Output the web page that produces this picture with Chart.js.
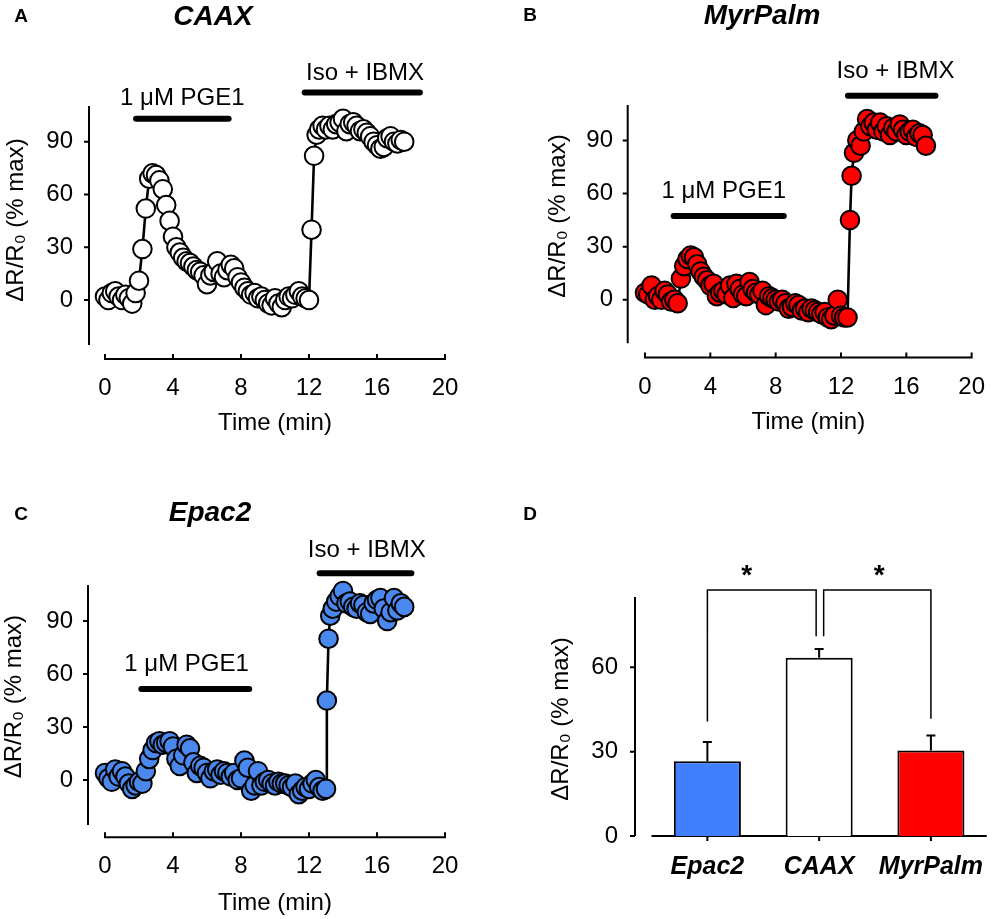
<!DOCTYPE html>
<html>
<head>
<meta charset="utf-8">
<script src="https://cdn.jsdelivr.net/npm/chart.js@4.4.1/dist/chart.umd.min.js"></script>
<style>
  html, body { margin: 0; padding: 0; background: #fff; }
  body { width: 1000px; height: 919px; position: relative; overflow: hidden;
         font-family: 'Liberation Sans', Arial, sans-serif; color: #000; }
  .panel { position: absolute; }
  .lbl { position: absolute; transform: translate(-50%, -50%); line-height: 1; white-space: nowrap; }
  .letter { font-weight: bold; font-size: 19px; }
  .title { font-weight: bold; font-style: italic; font-size: 28px; }
</style>
</head>
<body>
<div class="panel" style="left:0;top:0;width:500px;height:459px"><canvas id="panelA"></canvas></div>
<div class="panel" style="left:500px;top:0;width:500px;height:459px"><canvas id="panelB"></canvas></div>
<div class="panel" style="left:0;top:459px;width:500px;height:460px"><canvas id="panelC"></canvas></div>
<div class="panel" style="left:500px;top:459px;width:500px;height:460px"><canvas id="panelD"></canvas></div>

<div class="lbl letter" style="left:21px;top:15px">A</div>
<div class="lbl title" style="left:213px;top:16px">CAAX</div>
<div class="lbl letter" style="left:530px;top:14px">B</div>
<div class="lbl title" style="left:762px;top:15px">MyrPalm</div>
<div class="lbl letter" style="left:21px;top:513px">C</div>
<div class="lbl title" style="left:210px;top:512px">Epac2</div>
<div class="lbl letter" style="left:530px;top:513px">D</div>

<script>
const FONT = "'Liberation Sans', Arial, sans-serif";
const Y_TITLE = 'ΔR/R₀ (% max)';

// tick labels
const timeTicks = [0, 4, 8, 12, 16, 20];
const responseTicks = [0, 30, 60, 90];
const barTicks = [0, 30, 60];

// A: CAAX trace (time in min, response in % max)
const timeA = [0, 0.2, 0.4, 0.6, 0.8, 1, 1.2, 1.4, 1.6, 1.8, 2, 2.2, 2.4, 2.6, 2.8, 3, 3.2, 3.4, 3.6, 3.8,
  4, 4.2, 4.4, 4.6, 4.8, 5, 5.2, 5.4, 5.6, 5.8, 6, 6.2, 6.4, 6.6, 6.8, 7, 7.2, 7.4, 7.6, 7.8,
  8, 8.2, 8.4, 8.6, 8.8, 9, 9.2, 9.4, 9.6, 9.8, 10, 10.2, 10.4, 10.6, 10.8, 11, 11.2, 11.4, 11.6, 11.8,
  12, 12.15, 12.3, 12.45, 12.6, 12.8, 13, 13.2, 13.4, 13.6, 13.8, 14, 14.2, 14.4, 14.6, 14.8,
  15, 15.2, 15.4, 15.6, 15.8, 16, 16.2, 16.4, 16.6, 16.8, 17, 17.2, 17.4, 17.6];
const caax = [2, 0, 4, 5, 2, 0, 3, 1, -2, 4, 11, 29, 52, 69, 72, 71, 68, 63, 54, 45,
  36, 30, 27, 24, 22, 21, 19, 17, 16, 14, 9, 14, 16, 22, 15, 13, 17, 20, 18, 13,
  10, 7, 5, 3, 4, 1, 2, 0, -2, -3, 1, -2, -4, 0, 2, 1, 3, 5, 2, 1,
  0, 40, 82, 94, 97, 99, 97, 99, 97, 100, 101, 103, 96, 100, 101, 99,
  96, 97, 95, 93, 90, 88, 86, 87, 92, 93, 90, 89, 91, 90];

// B: MyrPalm trace
const timeB = [0, 0.2, 0.4, 0.6, 0.8, 1, 1.2, 1.4, 1.6, 1.8, 2, 2.2, 2.4, 2.6, 2.8, 3, 3.2, 3.4, 3.6, 3.8,
  4, 4.2, 4.4, 4.6, 4.8, 5, 5.2, 5.4, 5.6, 5.8, 6, 6.2, 6.4, 6.6, 6.8, 7, 7.2, 7.4, 7.6, 7.8,
  8, 8.2, 8.4, 8.6, 8.8, 9, 9.2, 9.4, 9.6, 9.8, 10, 10.2, 10.4, 10.6, 10.8, 11, 11.2, 11.4, 11.6, 11.8,
  12, 12.2, 12.4, 12.55, 12.65, 12.8, 13, 13.2, 13.4, 13.6, 13.8, 14, 14.2, 14.4, 14.6, 14.8,
  15, 15.2, 15.4, 15.6, 15.8, 16, 16.2, 16.4, 16.6, 16.8, 17, 17.2];
const myrPalm = [4, 3, 8, 0, 2, 0, 5, 3, -1, 0, -2, 12, 19, 23, 25, 24, 20, 16, 13, 11,
  8, 9, 2, 4, 5, 3, 8, 1, 9, 6, 3, 2, 10, 6, 4, 3, 5, -3, 2, 1,
  0, -1, 0, -2, -5, -4, -2, -3, -6, -5, -7, -5, -6, -7, -8, -7, -10, -11, -9, 0,
  -9, -10, -10, 45, 70, 83, 90, 87, 95, 102, 98, 100, 96, 100, 95, 98,
  93, 97, 95, 99, 96, 93, 95, 96, 92, 94, 93, 87];

// C: Epac2 trace
const timeC = [0, 0.2, 0.4, 0.6, 0.8, 1, 1.2, 1.4, 1.6, 1.8, 2, 2.2, 2.4, 2.6, 2.8, 3, 3.2, 3.4, 3.6, 3.8,
  4, 4.2, 4.4, 4.6, 4.8, 5, 5.2, 5.4, 5.6, 5.8, 6, 6.2, 6.4, 6.6, 6.8, 7, 7.2, 7.4, 7.6, 7.8,
  8, 8.2, 8.4, 8.6, 8.8, 9, 9.2, 9.4, 9.6, 9.8, 10, 10.2, 10.4, 10.6, 10.8, 11, 11.2, 11.4, 11.6, 11.8,
  12, 12.2, 12.4, 12.6, 12.8, 13, 13.05, 13.15, 13.25, 13.4, 13.6, 13.8, 14, 14.2, 14.4, 14.6, 14.8,
  15, 15.2, 15.4, 15.6, 15.8, 16, 16.2, 16.4, 16.6, 16.8, 17, 17.2, 17.4, 17.6];
const epac2 = [4, 1, -1, 6, 2, 5, 2, -2, -5, -3, -1, -2, 5, 12, 17, 21, 22, 20, 21, 22,
  19, 12, 8, 14, 20, 18, 10, 4, 8, 7, 4, 1, 5, 6, 3, 5, 4, 2, 4, 0,
  1, 11, 7, -6, -3, 5, -3, -1, 0, -2, -3, -1, -2, -2, -3, -4, -2, -8, -6, -4,
  -5, -2, 0, -4, -6, -5, 45, 80, 93, 97, 101, 104, 107, 100, 101, 98, 97,
  100, 99, 95, 94, 100, 102, 103, 97, 90, 95, 103, 96, 100, 98];

// drug application periods (min)
const pgeA = [1.65, 7.45], isoA = [11.57, 18.7];
const pgeB = [1.57, 8.68], isoB = [12.24, 17.97];
const pgeC = [1.96, 8.66], isoC = [12.45, 18.2];

// D: summary bars
const groups = ['Epac2', 'CAAX', 'MyrPalm'];
const meanD = [26.6, 63.4, 30.4];
const semD = [6.8, 3.1, 5.3];
const sigPairs = [[0, 1], [1, 2]];
const sigLegs = [[40.7, 71], [71, 41.7]];

const traceDecor = {
  id: 'traceDecor',
  beforeDatasetsDraw(chart, args, o) {
    const {ctx, chartArea} = chart;
    const xs = chart.scales.x, ys = chart.scales.y;
    ctx.save();
    ctx.strokeStyle = '#000';
    ctx.lineWidth = 2;
    ctx.beginPath();
    const ax = chartArea.left - o.gap;
    ctx.moveTo(ax, ys.getPixelForValue(o.yLine[0]));
    ctx.lineTo(ax, ys.getPixelForValue(o.yLine[1]));
    ys.ticks.forEach(t => {
      const py = ys.getPixelForValue(t.value);
      ctx.moveTo(ax - 5, py);
      ctx.lineTo(ax, py);
    });
    const by = chartArea.bottom;
    ctx.moveTo(xs.getPixelForValue(xs.min) - 1, by);
    ctx.lineTo(xs.getPixelForValue(xs.max) + 1, by);
    xs.ticks.forEach(t => {
      const px = xs.getPixelForValue(t.value);
      ctx.moveTo(px, by);
      ctx.lineTo(px, by - 5);
    });
    ctx.stroke();
    ctx.restore();
  },
  afterDatasetsDraw(chart, args, o) {
    const {ctx} = chart;
    const xs = chart.scales.x, ys = chart.scales.y;
    ctx.save();
    ctx.strokeStyle = '#000';
    ctx.fillStyle = '#000';
    ctx.lineWidth = 6;
    ctx.lineCap = 'round';
    ctx.font = '24px ' + FONT;
    ctx.textAlign = 'center';
    ctx.textBaseline = 'middle';
    o.marks.forEach(m => {
      const x0 = xs.getPixelForValue(m.span[0]) + 3;
      const x1 = xs.getPixelForValue(m.span[1]) - 3;
      const y = ys.getPixelForValue(m.barY);
      ctx.beginPath();
      ctx.moveTo(x0, y);
      ctx.lineTo(x1, y);
      ctx.stroke();
      ctx.fillText(m.text, xs.getPixelForValue(m.textX), ys.getPixelForValue(m.textY));
    });
    ctx.restore();
  }
};

function tracePanel(id, times, values, fill, frame, marks) {
  const points = times.map((t, i) => ({x: t, y: values[i]}));
  return new Chart(document.getElementById(id), {
    type: 'scatter',
    data: {
      datasets: [{
        data: points,
        showLine: true,
        borderColor: '#000',
        borderWidth: 2.6,
        pointRadius: 9.3,
        pointHoverRadius: 9.3,
        pointBackgroundColor: fill,
        pointBorderColor: '#000',
        pointBorderWidth: 2,
        clip: false
      }]
    },
    options: {
      responsive: true,
      maintainAspectRatio: false,
      animation: false,
      events: [],
      layout: {padding: frame.padding},
      plugins: {
        legend: {display: false},
        tooltip: {enabled: false},
        traceDecor: {gap: frame.gap, yLine: frame.yLine, marks: marks}
      },
      scales: {
        x: {
          type: 'linear', min: 0, max: 20,
          grid: {display: false, drawTicks: false},
          border: {display: false},
          afterBuildTicks: s => { s.ticks = timeTicks.map(v => ({value: v})); },
          afterFit: s => { s.height = frame.xHeight; },
          ticks: {padding: 15, maxRotation: 0, color: '#000', font: {size: 24, family: FONT}},
          title: {display: true, text: 'Time (min)', color: '#000', font: {size: 24, family: FONT},
                  padding: {top: 0, bottom: frame.xTitlePad}}
        },
        y: {
          min: frame.yMin, max: frame.yMax,
          grid: {display: false, drawTicks: false},
          border: {display: false},
          afterBuildTicks: s => { s.ticks = responseTicks.map(v => ({value: v})); },
          afterFit: s => { s.width = frame.yWidth; },
          ticks: {padding: 32, color: '#000', font: {size: 24, family: FONT}},
          title: {display: true, text: Y_TITLE, color: '#000', font: {size: 24, family: FONT},
                  padding: {top: frame.yTitlePad, bottom: 0}}
        }
      }
    },
    plugins: [traceDecor]
  });
}

tracePanel('panelA', timeA, caax, '#ffffff',
  {padding: {left: 0, right: 55, top: 81, bottom: 5}, gap: 16, yWidth: 105, xHeight: 95,
   yMin: -33.5, yMax: 124.5, yLine: [-25.6, 110.3], xTitlePad: 16.6, yTitlePad: 1.6},
  [{span: pgeA, barY: 103, text: '1 μM PGE1', textX: 4.55, textY: 114.7},
   {span: isoA, barY: 117.9, text: 'Iso + IBMX', textX: 15.3, textY: 128.9}]);

tracePanel('panelB', timeB, myrPalm, '#ff0000',
  {padding: {left: 0, right: 16, top: 74.5, bottom: 6.5}, gap: 17.3, yWidth: 145, xHeight: 95,
   yMin: -32.6, yMax: 127.2, yLine: [-24.5, 110], xTitlePad: 16.1, yTitlePad: 43.6},
  [{span: pgeB, barY: 47.3, text: '1 μM PGE1', textX: 4.82, textY: 61},
   {span: isoB, barY: 115.2, text: 'Iso + IBMX', textX: 15.34, textY: 128.7}]);

tracePanel('panelC', timeC, epac2, '#4a88ee',
  {padding: {left: 0, right: 55, top: 97, bottom: 1.7}, gap: 17, yWidth: 105, xHeight: 80,
   yMin: -32.4, yMax: 126.8, yLine: [-25.5, 110.4], xTitlePad: 0, yTitlePad: 0},
  [{span: pgeC, barY: 51.6, text: '1 μM PGE1', textX: 4.8, textY: 65.7},
   {span: isoC, barY: 117, text: 'Iso + IBMX', textX: 15.4, textY: 130}]);

const barDecor = {
  id: 'barDecor',
  beforeDatasetsDraw(chart) {
    const {ctx, chartArea} = chart;
    const xs = chart.scales.x, ys = chart.scales.y;
    ctx.save();
    ctx.strokeStyle = '#000';
    ctx.lineWidth = 2;
    ctx.beginPath();
    const ax = chartArea.left - 16.5;
    ctx.moveTo(ax, ys.getPixelForValue(0));
    ctx.lineTo(ax, ys.getPixelForValue(85));
    ys.ticks.forEach(t => {
      const py = ys.getPixelForValue(t.value);
      ctx.moveTo(ax - 5, py);
      ctx.lineTo(ax, py);
    });
    const by = ys.getPixelForValue(0);
    ctx.moveTo(chartArea.left, by);
    ctx.lineTo(chartArea.right, by);
    groups.forEach((g, i) => {
      const px = xs.getPixelForValue(i);
      ctx.moveTo(px, by);
      ctx.lineTo(px, by + 5);
    });
    ctx.stroke();
    ctx.restore();
  },
  afterDatasetsDraw(chart) {
    const {ctx} = chart;
    const xs = chart.scales.x, ys = chart.scales.y;
    ctx.save();
    ctx.strokeStyle = '#000';
    ctx.fillStyle = '#000';
    // error bars (upper only)
    ctx.lineWidth = 2;
    ctx.beginPath();
    meanD.forEach((m, i) => {
      const px = xs.getPixelForValue(i);
      const yTop = ys.getPixelForValue(m + semD[i]);
      ctx.moveTo(px, ys.getPixelForValue(m));
      ctx.lineTo(px, yTop);
      ctx.moveTo(px - 4.5, yTop);
      ctx.lineTo(px + 4.5, yTop);
    });
    ctx.stroke();
    // significance brackets
    ctx.lineWidth = 1.5;
    const topY = ys.getPixelForValue(87.5);
    const starY = ys.getPixelForValue(95.3) + 16;
    const starDx = [-15, 2];
    ctx.font = 'bold 28px ' + FONT;
    ctx.textAlign = 'center';
    ctx.textBaseline = 'alphabetic';
    sigPairs.forEach((p, k) => {
      const xa = xs.getPixelForValue(p[0]) + (p[0] === 1 ? 4.5 : 0);
      const xb = xs.getPixelForValue(p[1]) - (p[1] === 1 ? 3 : 0);
      ctx.beginPath();
      ctx.moveTo(xa, ys.getPixelForValue(sigLegs[k][0]));
      ctx.lineTo(xa, topY);
      ctx.lineTo(xb, topY);
      ctx.lineTo(xb, ys.getPixelForValue(sigLegs[k][1]));
      ctx.stroke();
      ctx.fillText('*', (xa + xb) / 2 + starDx[k], starY);
    });
    ctx.restore();
  }
};

new Chart(document.getElementById('panelD'), {
  type: 'bar',
  data: {
    labels: groups,
    datasets: [{
      data: meanD,
      backgroundColor: ['#4080ff', '#ffffff', '#ff0000'],
      borderColor: '#000',
      borderWidth: 2,
      categoryPercentage: 1,
      barPercentage: 0.6
    }]
  },
  options: {
    responsive: true,
    maintainAspectRatio: false,
    animation: false,
    events: [],
    layout: {padding: {left: 0, right: 7.7, top: 143, bottom: 13}},
    plugins: {legend: {display: false}, tooltip: {enabled: false}},
    scales: {
      x: {
        grid: {display: false, drawTicks: false},
        border: {display: false},
        afterFit: s => { s.height = 70; },
        ticks: {padding: 15.7, maxRotation: 0, color: '#000',
                font: {size: 25, family: FONT, weight: 'bold', style: 'italic'}}
      },
      y: {
        min: 0, max: 83.2,
        grid: {display: false, drawTicks: false},
        border: {display: false},
        afterBuildTicks: s => { s.ticks = barTicks.map(v => ({value: v})); },
        afterFit: s => { s.width = 151.5; },
        ticks: {padding: 33.5, color: '#000', font: {size: 24, family: FONT}},
        title: {display: true, text: Y_TITLE, color: '#000', font: {size: 24, family: FONT},
                padding: {top: 46.6, bottom: 0}}
      }
    }
  },
  plugins: [barDecor]
});
</script>
</body>
</html>
